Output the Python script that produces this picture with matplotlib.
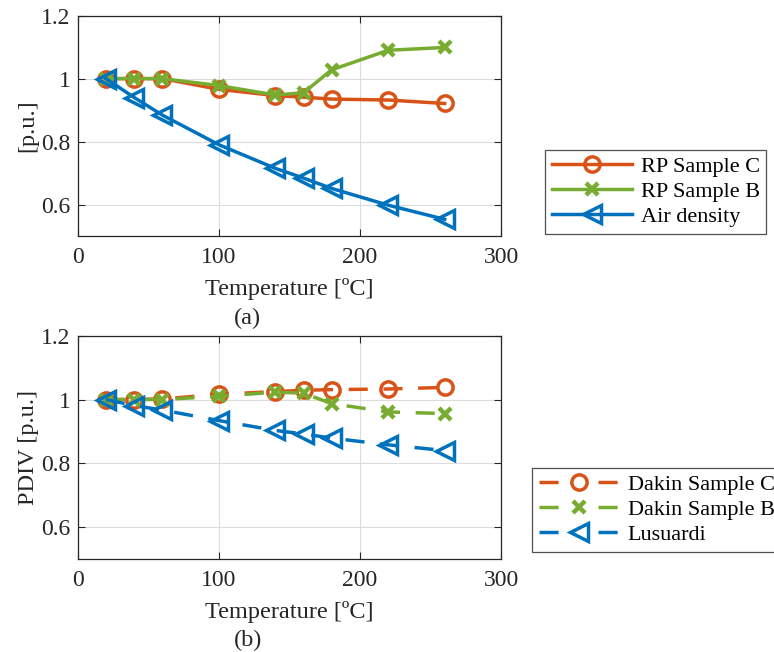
import numpy as np
import matplotlib
matplotlib.use("Agg")
import matplotlib.pyplot as plt
from matplotlib.lines import Line2D

plt.rcParams['font.family'] = ['Liberation Serif', 'DejaVu Serif']

# Data
temperature = [20, 40, 60, 100, 140, 160, 180, 220, 260]

rp_sample_c = [1.0, 1.0, 1.0, 0.966, 0.946, 0.941, 0.935, 0.932, 0.921]
rp_sample_b = [1.0, 1.0, 1.0, 0.978, 0.948, 0.955, 1.028, 1.090, 1.099]
air_density = [1.0, 0.940, 0.884, 0.790, 0.715, 0.684, 0.651, 0.598, 0.553]

dakin_c = [1.0, 1.0, 1.002, 1.016, 1.025, 1.029, 1.031, 1.033, 1.038]
dakin_b = [1.0, 1.0, 1.0, 1.010, 1.023, 1.020, 0.987, 0.961, 0.956]
lusuardi = [1.0, 0.981, 0.967, 0.934, 0.903, 0.892, 0.879, 0.858, 0.840]

labels_a = ["RP Sample C", "RP Sample B", "Air density"]
labels_b = ["Dakin Sample C", "Dakin Sample B", "Lusuardi"]

c_orange = "#D95319"
c_green = "#77AC30"
c_blue = "#0072BD"
dark = '#262626'

fig = plt.figure(figsize=(7.74, 6.52), dpi=100)
ax1 = fig.add_axes([0.1004, 0.638, 0.547, 0.338])
ax2 = fig.add_axes([0.1004, 0.1426, 0.547, 0.3425])

lw = 2.5
st_o = dict(marker='o', markersize=11, markerfacecolor='none', markeredgewidth=lw)
st_x = dict(marker='x', markersize=9, markeredgewidth=3.2)
st_t = dict(marker='<', markersize=13, markerfacecolor='none', markeredgewidth=lw)

ax1.plot(temperature, rp_sample_c, '-', color=c_orange, lw=lw, **st_o)
ax1.plot(temperature, rp_sample_b, '-', color=c_green, lw=lw, **st_x)
ax1.plot(temperature, air_density, '-', color=c_blue, lw=lw, **st_t)

dash = (5.5, 4.5)
ax2.plot(temperature, dakin_c, color=c_orange, lw=lw, dashes=dash, **st_o)
ax2.plot(temperature, dakin_b, color=c_green, lw=lw, dashes=dash, **st_x)
ax2.plot(temperature, lusuardi, color=c_blue, lw=lw, dashes=dash, **st_t)

for ax, ylab in [(ax1, "[p.u.]"), (ax2, "PDIV [p.u.]")]:
    ax.set_xlim(0, 300)
    ax.set_ylim(0.5, 1.2)
    ax.set_xticks([0, 100, 200, 300])
    ax.set_yticks([0.6, 0.8, 1.0, 1.2])
    ax.set_yticklabels(["0.6", "0.8", "1", "1.2"])
    ax.tick_params(direction='in', top=True, right=True, labelsize=17,
                   length=5, width=0.8, colors=dark, labelcolor=dark)
    ax.tick_params(axis='x', pad=8)
    ax.tick_params(axis='y', pad=5)
    ax.grid(True, color='#dcdcdc', linewidth=0.8)
    ax.set_axisbelow(True)
    for s in ax.spines.values():
        s.set_color(dark)
        s.set_linewidth(0.9)
    ax.set_xlabel("Temperature [ºC]", fontsize=17.5, color=dark, labelpad=7)
    ax.set_ylabel(ylab, fontsize=17.5, color=dark, labelpad=2)

fig.text(0.32, 0.512, "(a)", fontsize=17.5, ha='center', va='center', color=dark)
fig.text(0.32, 0.018, "(b)", fontsize=17.5, ha='center', va='center', color=dark)

# legend handles
h_a = [Line2D([], [], color=c_orange, lw=lw, **st_o),
       Line2D([], [], color=c_green, lw=lw, **st_x),
       Line2D([], [], color=c_blue, lw=lw, **st_t)]
leg_dash = (5.5, 11.5)
h_b = [Line2D([], [], color=c_orange, lw=lw, dashes=leg_dash, **st_o),
       Line2D([], [], color=c_green, lw=lw, dashes=leg_dash, **st_x),
       Line2D([], [], color=c_blue, lw=lw, dashes=leg_dash, **st_t)]

leg_kw = dict(fontsize=16, frameon=True, fancybox=False, edgecolor=dark,
              handlelength=3.6, borderaxespad=0, borderpad=0.3,
              labelspacing=0.2, handletextpad=0.4, loc='upper left',
              bbox_transform=fig.transFigure)

leg1 = ax1.legend(h_a, labels_a, bbox_to_anchor=(545 / 774, 1 - 150 / 652), **leg_kw)
leg1.get_frame().set_linewidth(0.9)
leg2 = ax2.legend(h_b, labels_b, bbox_to_anchor=(532 / 774, 1 - 468 / 652), **leg_kw)
leg2.get_frame().set_linewidth(0.9)

fig.savefig("out.png", dpi=100)
